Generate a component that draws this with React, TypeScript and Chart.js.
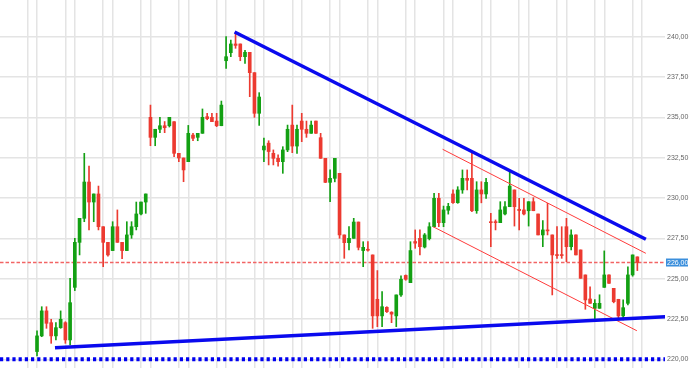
import React, { useEffect, useRef } from "react";
import { Chart, registerables } from "chart.js";

Chart.register(...registerables);

// OHLC values, one candle per index
const opens = [
  220.48, 221.45, 223.0, 222.27, 221.45, 221.96, 222.27, 221.2, 224.46, 227.25,
  228.74, 230.99, 229.75, 230.25, 228.22, 227.25, 226.74, 228.22, 227.25, 226.74,
  227.71, 228.22, 229.01, 229.75, 235.0, 233.76, 234.26, 234.48, 234.48, 234.73,
  232.77, 232.48, 232.25, 233.9, 233.76, 234.01, 235.04, 235.0, 234.77, 234.48,
  238.51, 239.01, 239.55, 239.55, 238.76, 239.03, 237.77, 235.25, 232.98, 233.4,
  232.77, 232.46, 232.25, 232.98, 234.52, 233.22, 234.77, 234.26, 234.01, 234.77,
  233.74, 232.46, 230.97, 231.22, 231.53, 227.71, 227.23, 227.5, 228.51, 226.74,
  226.8, 226.47, 223.72, 222.69, 223.22, 222.92, 222.69, 223.99, 225.2, 224.75,
  227.3, 227.5, 226.96, 227.48, 228.22, 229.98, 228.47, 229.24, 230.25, 229.71,
  230.5, 231.22, 231.22, 229.21, 230.5, 230.25, 228.52, 228.52, 228.47, 229.01,
  229.46, 230.5, 229.3, 229.26, 229.21, 229.77, 229.01, 227.71, 228.02, 227.71,
  226.48, 226.48, 228.22, 226.98, 227.71, 226.78, 225.23, 223.74, 223.16, 223.16,
  224.46, 225.23, 224.4, 223.72, 222.69, 223.47, 225.23, 226.35,
];
const highs = [
  221.76, 223.26, 223.26, 222.48, 222.27, 223.0, 222.33, 225.02, 227.5, 228.74,
  232.77, 231.98, 230.25, 230.74, 228.22, 227.25, 228.53, 229.26, 227.25, 228.53,
  228.53, 229.75, 229.75, 230.25, 235.76, 234.26, 235.0, 234.74, 235.0, 234.73,
  232.77, 232.48, 234.5, 234.01, 234.01, 235.52, 235.25, 235.25, 235.25, 236.01,
  240.0, 239.79, 240.25, 239.55, 239.15, 239.03, 237.77, 236.53, 233.72, 233.55,
  232.98, 232.67, 233.18, 234.52, 235.76, 234.52, 235.25, 234.77, 234.77, 234.77,
  234.01, 232.46, 231.74, 232.46, 231.53, 227.71, 228.22, 228.74, 228.51, 227.29,
  227.29, 226.47, 225.5, 224.2, 223.26, 222.95, 223.99, 225.17, 225.23, 227.29,
  228.02, 228.02, 227.8, 228.47, 230.29, 230.29, 229.5, 229.67, 230.5, 230.7,
  231.74, 231.74, 232.77, 231.01, 231.01, 231.22, 229.05, 228.64, 229.77, 229.77,
  231.7, 230.5, 229.98, 229.98, 229.77, 230.02, 229.01, 228.6, 229.67, 227.71,
  228.22, 228.22, 228.74, 228.02, 227.71, 226.78, 225.23, 224.5, 223.7, 224.0,
  226.72, 225.23, 224.4, 223.72, 223.68, 225.74, 226.47, 226.35,
];
const lows = [
  220.21, 221.4, 221.92, 220.99, 221.2, 221.92, 220.99, 220.89, 224.26, 226.47,
  228.53, 228.02, 228.53, 228.02, 225.74, 226.4, 226.74, 227.25, 226.24, 226.74,
  227.5, 228.02, 228.95, 229.05, 233.24, 233.24, 234.05, 234.05, 234.4, 232.56,
  232.25, 231.01, 232.25, 233.55, 233.55, 234.01, 234.85, 234.73, 234.42, 234.48,
  238.04, 238.76, 239.28, 238.51, 238.35, 236.28, 235.0, 234.5, 232.25, 232.05,
  232.05, 231.98, 231.53, 232.87, 232.81, 232.77, 233.49, 233.76, 234.01, 234.01,
  232.46, 230.95, 229.77, 231.0, 227.5, 226.26, 226.78, 227.5, 226.78, 225.74,
  226.7, 221.92, 222.02, 222.02, 222.9, 222.27, 222.02, 223.9, 224.9, 224.75,
  226.88, 226.47, 226.9, 227.4, 228.2, 228.22, 228.22, 229.0, 229.67, 229.67,
  230.29, 230.5, 229.15, 229.05, 229.7, 229.98, 226.98, 228.02, 228.47, 228.95,
  229.46, 228.26, 228.02, 228.95, 228.26, 229.21, 227.71, 226.98, 227.71, 223.99,
  226.26, 226.26, 226.05, 226.78, 226.47, 225.02, 223.1, 223.47, 222.44, 223.16,
  224.46, 224.71, 223.5, 222.44, 222.44, 223.37, 225.15, 225.5,
];
const closes = [
  221.45, 223.0, 222.23, 221.45, 221.96, 222.48, 221.2, 223.51, 227.25, 228.74,
  230.99, 229.75, 230.25, 228.22, 227.25, 226.47, 228.22, 227.25, 226.74, 227.71,
  228.22, 229.01, 229.75, 230.25, 233.76, 234.26, 234.48, 234.36, 235.0, 232.77,
  232.48, 231.74, 234.01, 233.7, 234.01, 235.0, 234.92, 234.73, 234.48, 235.76,
  238.76, 239.55, 239.46, 238.76, 239.03, 237.77, 235.25, 236.26, 233.22, 232.88,
  232.46, 232.25, 232.98, 234.26, 233.22, 234.26, 234.26, 234.01, 234.52, 234.01,
  232.46, 230.97, 231.22, 232.46, 227.71, 227.23, 227.5, 228.51, 226.94, 226.94,
  226.76, 222.69, 222.69, 223.26, 222.95, 222.8, 223.99, 224.96, 224.96, 226.74,
  227.2, 226.98, 227.71, 228.22, 229.98, 228.47, 229.26, 229.48, 229.71, 230.5,
  231.22, 231.1, 229.21, 230.5, 230.25, 230.97, 228.47, 228.47, 229.26, 229.46,
  230.74, 229.46, 229.22, 229.01, 229.77, 229.21, 227.71, 228.02, 227.96, 226.47,
  226.43, 226.43, 226.98, 227.71, 226.47, 225.02, 223.68, 223.47, 223.47, 223.47,
  225.23, 224.71, 223.57, 222.69, 223.2, 225.23, 226.47, 226.0,
];

// axis ticks
const yTicks = [220, 222.5, 225, 227.5, 230, 232.5, 235, 237.5, 240];
const xGridIdx: number[] = [];
for (let k = 0; k <= 16; k++) { xGridIdx.push(8 * k - 2, 8 * k); }

// reference levels
const lastPrice = 226.0;
const baseLevel = 220.0;

// drawn trend lines (index, price)
const upperTrend = [{ x: 41.8, y: 240.29 }, { x: 128.8, y: 227.44 }];
const lowerTrend = [{ x: 3.8, y: 220.72 }, { x: 132.9, y: 222.64 }];
const channelTop = [{ x: 85.8, y: 233.02 }, { x: 128.8, y: 226.57 }];
const channelBottom = [{ x: 83.8, y: 228.22 }, { x: 126.9, y: 221.77 }];

const X_MIN = -7.83;
const X_MAX = 132.85;
const Y_MIN = 219.46;
const Y_MAX = 242.275;

const GREEN = "#13a013";
const RED = "#ec3a30";

const fmt = (v: number) => v.toFixed(2).replace(".", ",");

const levelsPlugin = {
  id: "levels",
  beforeDatasetsDraw(chart: any) {
    const { ctx, chartArea, scales } = chart;
    const y = scales.y;
    ctx.save();
    const py = y.getPixelForValue(lastPrice);
    ctx.strokeStyle = "#f26464";
    ctx.lineWidth = 1.4;
    ctx.setLineDash([3.5, 2]);
    ctx.beginPath();
    ctx.moveTo(chartArea.left, py);
    ctx.lineTo(chartArea.right, py);
    ctx.stroke();
    ctx.restore();
  },
  afterDatasetsDraw(chart: any) {
    const { ctx, chartArea, scales } = chart;
    const y = scales.y;
    ctx.save();
    const py = y.getPixelForValue(baseLevel);
    ctx.strokeStyle = "#0000f0";
    ctx.lineWidth = 4;
    ctx.setLineDash([3.2, 3]);
    ctx.lineCap = "butt";
    ctx.beginPath();
    ctx.moveTo(chartArea.left, py);
    ctx.lineTo(chartArea.right, py);
    ctx.stroke();
    ctx.restore();
  },
  afterDraw(chart: any) {
    const { ctx, chartArea, scales } = chart;
    const y = scales.y;
    const py = y.getPixelForValue(lastPrice);
    ctx.save();
    ctx.fillStyle = "#3b8fdc";
    ctx.fillRect(chartArea.right + 1, py - 4, 22, 8);
    ctx.fillStyle = "#ffffff";
    ctx.font = "7px 'Liberation Sans', Arial, sans-serif";
    ctx.textBaseline = "middle";
    ctx.textAlign = "left";
    ctx.fillText(fmt(lastPrice), chartArea.right + 2, py + 0.5);
    ctx.restore();
  },
};

export default function App() {
  const ref = useRef<HTMLCanvasElement>(null);

  useEffect(() => {
    if (!ref.current) return;
    const candleColors = opens.map((o, i) => (closes[i] >= o ? GREEN : RED));
    const bodies = opens.map((o, i) => ({ x: i, y: [o, closes[i]] }));
    const wicks = lows.map((l, i) => ({ x: i, y: [l, highs[i]] }));

    const lineDs = (data: any[], color: string, width: number, order: number) => ({
      type: "line" as const,
      data,
      borderColor: color,
      borderWidth: width,
      pointRadius: 0,
      fill: false,
      order,
      borderCapStyle: "butt",
    });

    const chart = new Chart(ref.current, {
      type: "bar",
      data: {
        datasets: [
          {
            data: wicks as any,
            backgroundColor: candleColors,
            barThickness: 1,
            grouped: false,
            order: 6,
          } as any,
          {
            data: bodies as any,
            backgroundColor: candleColors,
            barThickness: 3,
            minBarLength: 1,
            grouped: false,
            order: 5,
          } as any,
          lineDs(channelTop, "#ff3b3b", 1, 3) as any,
          lineDs(channelBottom, "#ff3b3b", 1, 3) as any,
          lineDs(upperTrend, "#0a0aee", 3.5, 1) as any,
          lineDs(lowerTrend, "#0a0aee", 3.5, 1) as any,
        ],
      },
      options: {
        animation: false,
        responsive: false,
        devicePixelRatio: 1,
        layout: { padding: 0 },
        plugins: { legend: { display: false }, tooltip: { enabled: false } },
        scales: {
          x: {
            type: "linear",
            min: X_MIN,
            max: X_MAX,
            offset: false,
            grid: { color: "#e4e4e4", lineWidth: 1.5, drawTicks: false, offset: false },
            border: { display: false },
            ticks: { display: false },
            afterBuildTicks: (s: any) => {
              s.ticks = xGridIdx.map((v) => ({ value: v }));
            },
            afterFit: (s: any) => {
              s.height = 0;
            },
          },
          y: {
            type: "linear",
            position: "right",
            min: Y_MIN,
            max: Y_MAX,
            grid: { color: "#e4e4e4", lineWidth: 1.5, drawTicks: false },
            border: { display: false },
            ticks: {
              padding: 2,
              color: "#666666",
              font: { size: 7, family: "'Liberation Sans', Arial, sans-serif" },
              callback: (v: any) => fmt(Number(v)),
            },
            afterBuildTicks: (s: any) => {
              s.ticks = yTicks.map((v) => ({ value: v }));
            },
            afterFit: (s: any) => {
              s.width = 25;
              s.paddingTop = 0;
              s.paddingBottom = 0;
            },
          },
        },
      } as any,
      plugins: [levelsPlugin],
    });
    return () => chart.destroy();
  }, []);

  return (
    <div style={{ position: "absolute", left: 0, top: 0, width: 690, height: 368, background: "#fff" }}>
      <canvas ref={ref} width={690} height={368} style={{ display: "block" }} />
    </div>
  );
}
